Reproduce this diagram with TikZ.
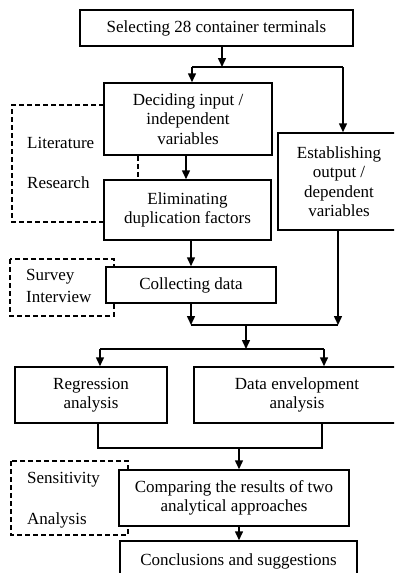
\documentclass[tikz,border=0pt]{standalone}
\usepackage{fontspec}
\setmainfont{Liberation Serif}
\usetikzlibrary{positioning, arrows.meta}

\begin{document}
\begin{tikzpicture}[
        x=1pt, y=-1pt,
        box/.style={rectangle, draw, line width=1.5pt, fill=white, inner sep=0pt, align=center, font=\fontsize{17}{19.5}\selectfont},
        side/.style={draw, line width=1.3pt, dash pattern=on 5pt off 3pt},
        note/.style={anchor=west, inner sep=0pt, font=\fontsize{17}{19.5}\selectfont},
        flow/.style={line width=1.5pt, -{Triangle[length=9pt, width=8pt]}},
        link/.style={line width=1.5pt}
    ]
    \useasboundingbox (0,0) rectangle (394,573);
    \clip (0,0) rectangle (394,573);

    %Side notes (dashed, behind the boxes)
    \coordinate (litx) at (138,0);
    \draw[side] (104,105) -- (12,105) -- (12,222) -- (104,222);
    \draw[side] (10,259) rectangle (114,316);
    \draw[side] (11,461) rectangle (128,535);

    \node[note] (lit1) at (27,143) {Literature};
    \node[note] (lit2) at (27,183) {Research};
    \node[note] (sur1) at (26,277) {Survey};
    \node[note] (sur2) at (26,297) {Interview};
    \node[note] (sen1) at (27,480) {Sensitivity};
    \node[note] (sen2) at (27,520) {Analysis};

    %Main steps
    \node[box, minimum width=273pt, minimum height=36pt] (sel) at (216.5,28) {Selecting 28 container terminals};
    \node[box, minimum width=168pt, minimum height=72pt] (dec) at (188,119) {Deciding input /\\ independent\\ variables};
    \node[box, minimum width=122pt, minimum height=97pt] (est) at (339,181.5) {Establishing\\ output /\\ dependent\\ variables};
    \node[box, minimum width=167pt, minimum height=60pt] (eli) at (187.5,210) {Eliminating\\ duplication factors};
    \node[box, minimum width=170pt, minimum height=36pt] (col) at (191,285) {Collecting data};
    \node[box, minimum width=152pt, minimum height=56pt] (reg) at (91,395) {Regression\\ analysis};
    \node[box, minimum width=206pt, minimum height=56pt] (dea) at (297,395) {Data envelopment\\ analysis};
    \node[box, minimum width=230pt, minimum height=56pt] (cmp) at (234,498) {Comparing the results of two\\ analytical approaches};
    \node[box, minimum width=237pt, minimum height=40pt] (con) at (238.5,561) {Conclusions and suggestions};

    \draw[side] (dec.south -| litx) -- (eli.north -| litx);

    %Split after selection
    \coordinate (top) at (222,67);
    \coordinate (topl) at (192,67);
    \coordinate (topr) at (343,67);
    \draw[flow] (sel.south -| top) -- (top);
    \draw[link] (topl) -- (topr);
    \draw[flow] (topl) -- (dec.north -| topl);
    \draw[flow] (topr) -- (est.north -| topr);

    %Input branch
    \coordinate (de) at (186,0);
    \coordinate (ec) at (191,0);
    \draw[flow] (dec.south -| de) -- (eli.north -| de);
    \draw[flow] (eli.south -| ec) -- (col.north -| ec);

    %Merge and fork
    \coordinate (midl) at (191,325);
    \coordinate (midr) at (338,325);
    \coordinate (mid) at (246,325);
    \draw[flow] (col.south -| midl) -- (midl);
    \draw[flow] (est.south -| midr) -- (midr);
    \draw[link] (midl) -- (midr);
    \coordinate (fork) at (246,349);
    \coordinate (forkl) at (100,349);
    \coordinate (forkr) at (324,349);
    \draw[flow] (mid) -- (fork);
    \draw[link] (forkl) -- (forkr);
    \draw[flow] (forkl) -- (reg.north -| forkl);
    \draw[flow] (forkr) -- (dea.north -| forkr);

    %Join of the two analyses
    \coordinate (joinl) at (98,448);
    \coordinate (joinr) at (322,448);
    \coordinate (join) at (239,448);
    \draw[link] (reg.south -| joinl) -- (joinl) -- (joinr) -- (dea.south -| joinr);
    \draw[flow] (join) -- (cmp.north -| join);
    \draw[flow] (cmp.south -| join) -- (con.north -| join);

\end{tikzpicture}
\end{document}
